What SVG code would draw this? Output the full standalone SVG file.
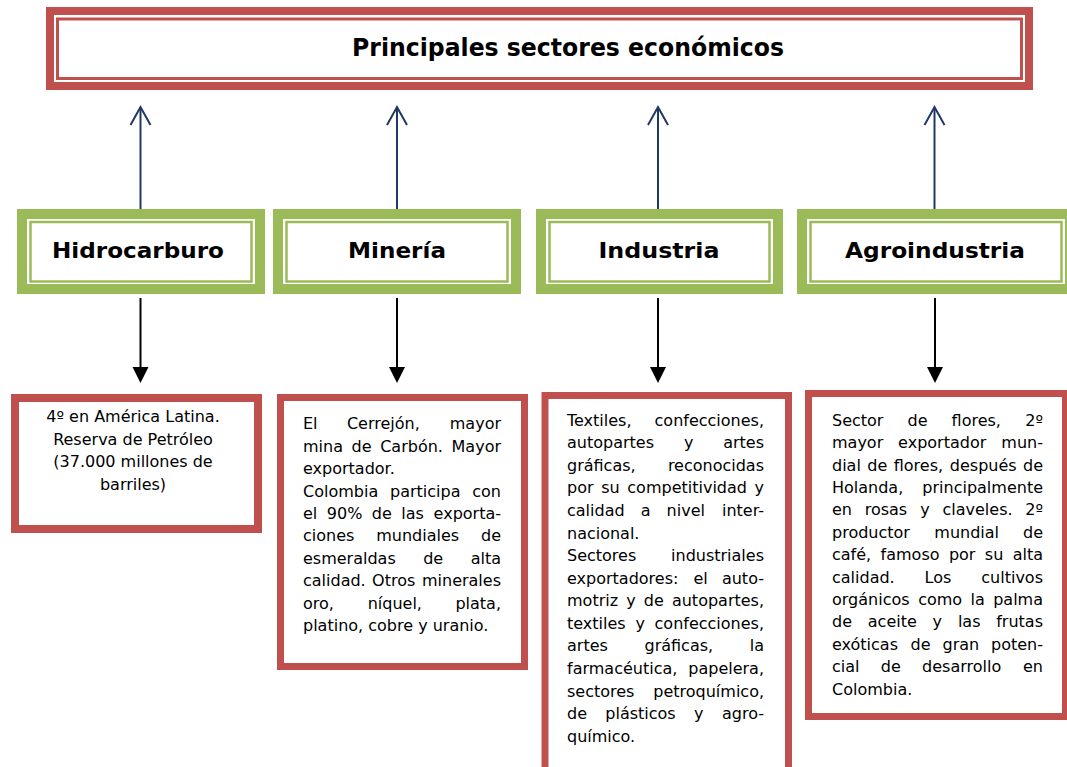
<svg xmlns="http://www.w3.org/2000/svg" width="1067" height="767" viewBox="0 0 1067 767">
<style>
.bg{fill:#fff}
.red{fill:#fff;stroke:#C0504D}
.redthin{fill:none;stroke:#C0504D;stroke-width:3}
.grn{fill:#fff;stroke:#9BBB59;stroke-width:10}
.grnthin{fill:none;stroke:#9BBB59;stroke-width:2.5}
.up{stroke:#1F3864;stroke-width:2;fill:none}
.dn{stroke:#000;stroke-width:2;fill:none}
.head{fill:#000}
.t{font-family:"DejaVu Sans","Liberation Sans",sans-serif;font-size:16px;fill:#000}
.r{text-anchor:end}
.c{text-anchor:middle}
.h{font-family:"DejaVu Sans","Liberation Sans",sans-serif;font-weight:bold;font-size:22px;fill:#000;text-anchor:middle}
.ttl{font-size:24px}
</style>
<rect class="bg" x="0" y="0" width="1067" height="767"/>

<g id="title">
<rect class="red" x="50" y="11" width="979" height="75" stroke-width="8"/>
<rect class="redthin" x="57.5" y="19" width="964" height="59.5"/>
<text class="h ttl" x="568" y="56" textLength="432" lengthAdjust="spacingAndGlyphs">Principales sectores económicos</text>
</g>

<g id="connectors">
<g class="up">
<line x1="140.5" y1="209" x2="140.5" y2="108"/><path d="M130.5,125 L140.5,107 L150.5,125"/>
<line x1="397" y1="209" x2="397" y2="108"/><path d="M387,125 L397,107 L407,125"/>
<line x1="658" y1="209" x2="658" y2="108"/><path d="M648,125 L658,107 L668,125"/>
<line x1="934.5" y1="209" x2="934.5" y2="108"/><path d="M924.5,125 L934.5,107 L944.5,125"/>
</g>
<g class="dn">
<line x1="140.5" y1="298" x2="140.5" y2="368"/>
<line x1="397" y1="298" x2="397" y2="368"/>
<line x1="658" y1="298" x2="658" y2="368"/>
<line x1="935" y1="298" x2="935" y2="368"/>
</g>
<g class="head">
<path d="M132.5,367 L148.5,367 L140.5,383 Z"/>
<path d="M389,367 L405,367 L397,383 Z"/>
<path d="M650,367 L666,367 L658,383 Z"/>
<path d="M927,367 L943,367 L935,383 Z"/>
</g>
</g>

<g id="hidrocarburo">
<rect class="grn" x="22" y="214" width="238" height="75"/>
<rect class="grnthin" x="30.5" y="222" width="221" height="59.5"/>
<text class="h" x="138" y="258" textLength="172" lengthAdjust="spacingAndGlyphs">Hidrocarburo</text>
</g>
<g id="mineria">
<rect class="grn" x="278" y="214" width="238" height="75"/>
<rect class="grnthin" x="286.5" y="222" width="221" height="59.5"/>
<text class="h" x="397" y="258" textLength="98" lengthAdjust="spacingAndGlyphs">Minería</text>
</g>
<g id="industria">
<rect class="grn" x="541" y="214" width="237" height="75"/>
<rect class="grnthin" x="549.5" y="222" width="220" height="59.5"/>
<text class="h" x="659" y="258" textLength="121" lengthAdjust="spacingAndGlyphs">Industria</text>
</g>
<g id="agroindustria">
<rect class="grn" x="802" y="214" width="268" height="75"/>
<rect class="grnthin" x="810.5" y="222" width="251" height="59.5"/>
<text class="h" x="935" y="258" textLength="180" lengthAdjust="spacingAndGlyphs">Agroindustria</text>
</g>

<g id="hidrocarburo-info">
<rect class="red" x="15" y="398" width="243" height="131" stroke-width="8"/>
<text class="t c" x="133" y="422">4º en América Latina.</text>
<text class="t c" x="133" y="444.5">Reserva de Petróleo</text>
<text class="t c" x="133" y="467">(37.000 millones de</text>
<text class="t c" x="133" y="489.5">barriles)</text>
</g>

<g id="mineria-info">
<rect class="red" x="280.5" y="397.5" width="244" height="269" stroke-width="7"/>
<text class="t" y="429.3"><tspan x="303">El</tspan><tspan x="346.9">Cerrejón,</tspan></text><text class="t r" x="501" y="429.3">mayor</text>
<text class="t" y="451.7"><tspan x="303">mina</tspan><tspan x="351.6">de</tspan><tspan x="380.2">Carbón.</tspan></text><text class="t r" x="501" y="451.7">Mayor</text>
<text class="t" x="303" y="474.1">exportador.</text>
<text class="t" y="496.5"><tspan x="303">Colombia</tspan><tspan x="390">participa</tspan></text><text class="t r" x="501" y="496.5">con</text>
<text class="t" y="518.9"><tspan x="303">el</tspan><tspan x="326.8">90%</tspan><tspan x="371.8">de</tspan><tspan x="401.3">las</tspan></text><text class="t r" x="501" y="518.9">exporta-</text>
<text class="t" y="541.3"><tspan x="303">ciones</tspan><tspan x="376.2">mundiales</tspan></text><text class="t r" x="501" y="541.3">de</text>
<text class="t" y="563.7"><tspan x="303">esmeraldas</tspan><tspan x="423.2">de</tspan></text><text class="t r" x="501" y="563.7">alta</text>
<text class="t" y="586.1"><tspan x="303">calidad.</tspan><tspan x="372.1">Otros</tspan></text><text class="t r" x="501" y="586.1">minerales</text>
<text class="t" y="608.5"><tspan x="303">oro,</tspan><tspan x="367.7">níquel,</tspan></text><text class="t r" x="501" y="608.5">plata,</text>
<text class="t" x="303" y="630.9">platino, cobre y uranio.</text>
</g>

<g id="industria-info">
<rect class="red" x="545" y="395.5" width="243.5" height="385" stroke-width="7"/>
<text class="t" x="567" y="425.7">Textiles,</text><text class="t r" x="764" y="425.7">confecciones,</text>
<text class="t" y="448.3"><tspan x="567">autopartes</tspan><tspan x="683.9">y</tspan></text><text class="t r" x="764" y="448.3">artes</text>
<text class="t" x="567" y="470.8">gráficas,</text><text class="t r" x="764" y="470.8">reconocidas</text>
<text class="t" y="493.4"><tspan x="567">por</tspan><tspan x="601.2">su</tspan><tspan x="627.3">competitividad</tspan></text><text class="t r" x="764" y="493.4">y</text>
<text class="t" y="516"><tspan x="567">calidad</tspan><tspan x="640.7">a</tspan><tspan x="666.6">nivel</tspan></text><text class="t r" x="764" y="516">inter-</text>
<text class="t" x="567" y="538.6">nacional.</text>
<text class="t" x="567" y="561.1">Sectores</text><text class="t r" x="764" y="561.1">industriales</text>
<text class="t" y="583.7"><tspan x="567">exportadores:</tspan><tspan x="693.5">el</tspan></text><text class="t r" x="764" y="583.7">auto-</text>
<text class="t" y="606.3"><tspan x="567">motriz</tspan><tspan x="626.2">y</tspan><tspan x="643.8">de</tspan></text><text class="t r" x="764" y="606.3">autopartes,</text>
<text class="t" y="628.8"><tspan x="567">textiles</tspan><tspan x="635.5">y</tspan></text><text class="t r" x="764" y="628.8">confecciones,</text>
<text class="t" y="651.4"><tspan x="567">artes</tspan><tspan x="644.5">gráficas,</tspan></text><text class="t r" x="764" y="651.4">la</text>
<text class="t" x="567" y="674">farmacéutica,</text><text class="t r" x="764" y="674">papelera,</text>
<text class="t" x="567" y="696.5">sectores</text><text class="t r" x="764" y="696.5">petroquímico,</text>
<text class="t" y="719.1"><tspan x="567">de</tspan><tspan x="605.3">plásticos</tspan><tspan x="694.1">y</tspan></text><text class="t r" x="764" y="719.1">agro-</text>
<text class="t" x="567" y="741.7">químico.</text>
</g>

<g id="agroindustria-info">
<rect class="red" x="808.5" y="393.5" width="257" height="323" stroke-width="7"/>
<text class="t" y="425.7"><tspan x="832">Sector</tspan><tspan x="907.5">de</tspan><tspan x="951.6">flores,</tspan></text><text class="t r" x="1043" y="425.7">2º</text>
<text class="t" y="448.1"><tspan x="832">mayor</tspan><tspan x="898.1">exportador</tspan></text><text class="t r" x="1043" y="448.1">mun-</text>
<text class="t" y="470.5"><tspan x="832">dial</tspan><tspan x="867.3">de</tspan><tspan x="893.7">flores,</tspan><tspan x="949.8">después</tspan></text><text class="t r" x="1043" y="470.5">de</text>
<text class="t" x="832" y="492.9">Holanda,</text><text class="t r" x="1043" y="492.9">principalmente</text>
<text class="t" y="515.3"><tspan x="832">en</tspan><tspan x="864.7">rosas</tspan><tspan x="920.3">y</tspan><tspan x="942.5">claveles.</tspan></text><text class="t r" x="1043" y="515.3">2º</text>
<text class="t" y="537.7"><tspan x="832">productor</tspan><tspan x="934.3">mundial</tspan></text><text class="t r" x="1043" y="537.7">de</text>
<text class="t" y="560.1"><tspan x="832">café,</tspan><tspan x="880.6">famoso</tspan><tspan x="948.9">por</tspan><tspan x="984.8">su</tspan></text><text class="t r" x="1043" y="560.1">alta</text>
<text class="t" y="582.5"><tspan x="832">calidad.</tspan><tspan x="924.5">Los</tspan></text><text class="t r" x="1043" y="582.5">cultivos</text>
<text class="t" y="604.9"><tspan x="832">orgánicos</tspan><tspan x="918.2">como</tspan><tspan x="970.5">la</tspan></text><text class="t r" x="1043" y="604.9">palma</text>
<text class="t" y="627.3"><tspan x="832">de</tspan><tspan x="867.8">aceite</tspan><tspan x="932.6">y</tspan><tspan x="957.9">las</tspan></text><text class="t r" x="1043" y="627.3">frutas</text>
<text class="t" y="649.7"><tspan x="832">exóticas</tspan><tspan x="910.6">de</tspan><tspan x="942.5">gran</tspan></text><text class="t r" x="1043" y="649.7">poten-</text>
<text class="t" y="672.1"><tspan x="832">cial</tspan><tspan x="880.8">de</tspan><tspan x="922.1">desarrollo</tspan></text><text class="t r" x="1043" y="672.1">en</text>
<text class="t" x="832" y="694.5">Colombia.</text>
</g>
</svg>
